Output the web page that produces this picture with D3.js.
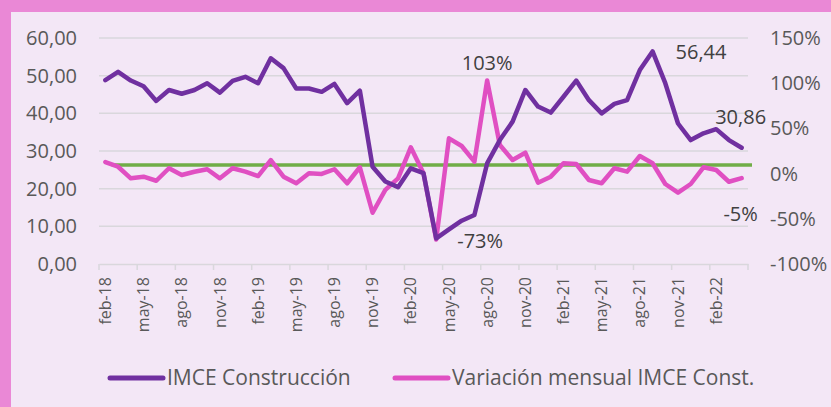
<!DOCTYPE html>
<html>
<head>
<meta charset="utf-8">
<script src="https://cdn.jsdelivr.net/npm/d3@7"></script>
<style>
  html, body { margin: 0; padding: 0; background: #f3e7f6; }
  svg { display: block; font-family: "Open Sans", sans-serif; }
</style>
</head>
<body>
<svg id="chart" width="831" height="407"></svg>
<script>
"use strict";

const WIDTH = 831;
const HEIGHT = 407;

const months = [
  "feb-18", "mar-18", "abr-18", "may-18", "jun-18", "jul-18", "ago-18", "sep-18", "oct-18", "nov-18", "dic-18", "ene-19",
  "feb-19", "mar-19", "abr-19", "may-19", "jun-19", "jul-19", "ago-19", "sep-19", "oct-19", "nov-19", "dic-19", "ene-20",
  "feb-20", "mar-20", "abr-20", "may-20", "jun-20", "jul-20", "ago-20", "sep-20", "oct-20", "nov-20", "dic-20", "ene-21",
  "feb-21", "mar-21", "abr-21", "may-21", "jun-21", "jul-21", "ago-21", "sep-21", "oct-21", "nov-21", "dic-21", "ene-22",
  "feb-22", "mar-22", "abr-22"
];

// IMCE Construcción (left axis)
const imce = [
  48.8, 51.0, 48.7, 47.2, 43.3, 46.2, 45.2, 46.2, 48.0, 45.5, 48.6, 49.7,
  48.0, 54.6, 52.0, 46.6, 46.6, 45.7, 47.8, 42.7, 46.0, 25.8, 21.9, 20.4,
  25.4, 24.1, 6.8, 9.2, 11.5, 13.0, 26.7, 32.9, 37.8, 46.2, 41.8, 40.2,
  44.4, 48.7, 43.5, 40.0, 42.5, 43.5, 51.5, 56.44, 48.0, 37.3, 32.9, 34.7,
  35.8, 32.9, 30.86
];

// Variación mensual (right axis, %)
const variacion = [
  12.8, 7.6, -5.2, -3.4, -7.9, 5.9, -1.5, 2.1, 4.8, -5.2, 5.9, 2.1,
  -2.7, 15.0, -3.4, -10.7, 0.3, -0.4, 4.8, -10.7, 7.0, -43.3, -18.1, -5.2,
  29.1, 0.3, -73, 39.0, 30.5, 13.2, 103, 31.6, 15.0, 23.1, -10.1, -3.4,
  11.4, 10.6, -7.1, -10.7, 5.9, 2.1, 19.5, 11.4, -11.5, -21.1, -11.5, 7.0,
  4.0, -9.0, -5
];

const referenceLevel = 26.3; // green line, left axis

const leftTicks = [0, 10, 20, 30, 40, 50, 60];
const rightTicks = [-100, -50, 0, 50, 100, 150];

const labelsLeft = [
  { idx: 43, text: "56,44", dx: 23, dy: 8, anchor: "start" },
  { idx: 50, text: "30,86", dx: -1, dy: -24, anchor: "middle" }
];
const labelsRight = [
  { idx: 30, text: "103%", dx: 0, dy: -10, anchor: "middle" },
  { idx: 26, text: "-73%", dx: 21, dy: 8, anchor: "start" },
  { idx: 50, text: "-5%", dx: -1, dy: 43, anchor: "middle" }
];

const COLORS = {
  imce: "#7030a0",
  variacion: "#e04fc2",
  ref: "#70ad47",
  grid: "#d9d7dc",
  text: "#595959",
  label: "#404040",
  border: "#ea88d6"
};

const svg = d3.select("#chart");

// background and pink frame (top and left)
svg.append("rect").attr("width", WIDTH).attr("height", HEIGHT).attr("fill", "#f3e7f6");
svg.append("rect").attr("width", WIDTH).attr("height", 12).attr("fill", COLORS.border);
svg.append("rect").attr("width", 11).attr("height", HEIGHT).attr("fill", COLORS.border);

const plot = { left: 99, right: 748, top: 38, bottom: 264 };

const x = d3.scaleBand().domain(months).range([plot.left, plot.right]).padding(0);
const yL = d3.scaleLinear().domain([0, 60]).range([plot.bottom, plot.top]);
const yR = d3.scaleLinear().domain([-100, 150]).range([plot.bottom, plot.top]);
const cx = (d) => x(d) + x.bandwidth() / 2;

// gridlines
svg.append("g")
  .selectAll("line")
  .data(leftTicks.slice(1))
  .enter()
  .append("line")
  .attr("x1", plot.left)
  .attr("x2", plot.right)
  .attr("y1", (d) => yL(d))
  .attr("y2", (d) => yL(d))
  .attr("stroke", COLORS.grid)
  .attr("stroke-width", 1.5);

// left axis labels
svg.append("g")
  .selectAll("text")
  .data(leftTicks)
  .enter()
  .append("text")
  .attr("x", 77)
  .attr("y", (d) => yL(d))
  .attr("dy", "0.35em")
  .attr("text-anchor", "end")
  .attr("fill", COLORS.text)
  .style("font-size", "20px")
  .text((d) => d3.format(".2f")(d).replace(".", ","));

// right axis labels
svg.append("g")
  .selectAll("text")
  .data(rightTicks)
  .enter()
  .append("text")
  .attr("x", 770)
  .attr("y", (d) => yR(d))
  .attr("dy", "0.35em")
  .attr("text-anchor", "start")
  .attr("fill", COLORS.text)
  .style("font-size", "20px")
  .text((d) => d + "%");

// bottom axis
const shown = months.filter((d, i) => i % 3 === 0);
const xAxis = svg.append("g")
  .attr("transform", `translate(0,${plot.bottom})`)
  .call(d3.axisBottom(x).tickValues(shown).tickSize(6).tickSizeOuter(0).tickPadding(8));

xAxis.select(".domain").attr("stroke", COLORS.grid).attr("stroke-width", 1.5);
xAxis.selectAll(".tick line")
  .attr("stroke", COLORS.grid)
  .attr("stroke-width", 1.5)
  .attr("x1", -x.bandwidth() / 2)
  .attr("x2", -x.bandwidth() / 2);
xAxis.append("line")
  .attr("x1", plot.right).attr("x2", plot.right)
  .attr("y1", 0).attr("y2", 6)
  .attr("stroke", COLORS.grid).attr("stroke-width", 1.5);
xAxis.selectAll(".tick text")
  .attr("fill", COLORS.text)
  .style("font-size", "16px")
  .style("font-family", "'Open Sans', sans-serif")
  .attr("transform", "rotate(-90)")
  .attr("text-anchor", "end")
  .attr("x", -13)
  .attr("y", 0)
  .attr("dy", "0.35em");

// reference line
svg.append("line")
  .attr("x1", x.range()[0] + x.step())
  .attr("x2", x.range()[1] + 4)
  .attr("y1", yL(referenceLevel))
  .attr("y2", yL(referenceLevel))
  .attr("stroke", COLORS.ref)
  .attr("stroke-width", 3.5);

// series lines
const lineL = d3.line().x((d, i) => cx(months[i])).y((d) => yL(d));
const lineR = d3.line().x((d, i) => cx(months[i])).y((d) => yR(d));

svg.append("path")
  .datum(variacion)
  .attr("d", lineR)
  .attr("fill", "none")
  .attr("stroke", COLORS.variacion)
  .attr("stroke-width", 4.5)
  .attr("stroke-linejoin", "round")
  .attr("stroke-linecap", "round");

svg.append("path")
  .datum(imce)
  .attr("d", lineL)
  .attr("fill", "none")
  .attr("stroke", COLORS.imce)
  .attr("stroke-width", 4.5)
  .attr("stroke-linejoin", "round")
  .attr("stroke-linecap", "round");

// data labels
function addLabels(list, values, scale) {
  svg.append("g")
    .selectAll("text")
    .data(list)
    .enter()
    .append("text")
    .attr("x", (d) => cx(months[d.idx]) + d.dx)
    .attr("y", (d) => scale(values[d.idx]) + d.dy)
    .attr("text-anchor", (d) => d.anchor)
    .attr("fill", COLORS.label)
    .style("font-size", "20px")
    .text((d) => d.text);
}
addLabels(labelsLeft, imce, yL);
addLabels(labelsRight, variacion, yR);

// legend
const legend = [
  { name: "IMCE Construcción", color: COLORS.imce, x: 110 },
  { name: "Variación mensual IMCE Const.", color: COLORS.variacion, x: 395 }
];
const lg = svg.append("g").selectAll("g").data(legend).enter().append("g")
  .attr("transform", (d) => `translate(${d.x},378)`);
lg.append("line")
  .attr("x1", 0).attr("x2", 53)
  .attr("stroke", (d) => d.color)
  .attr("stroke-width", 5)
  .attr("stroke-linecap", "round");
lg.append("text")
  .attr("x", 57)
  .attr("y", 0)
  .attr("dy", "0.35em")
  .attr("fill", COLORS.text)
  .style("font-size", "21px")
  .text((d) => d.name);
</script>
</body>
</html>
